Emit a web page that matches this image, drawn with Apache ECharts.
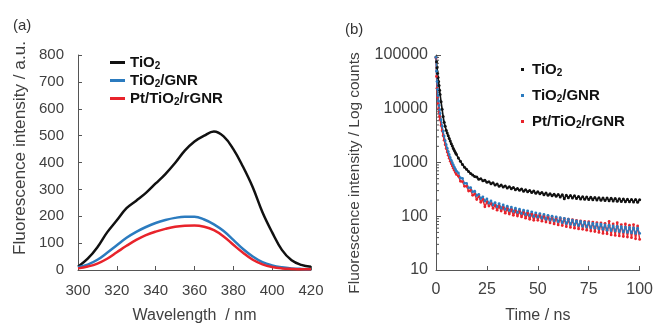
<!DOCTYPE html>
<html><head><meta charset="utf-8">
<script src="https://cdn.jsdelivr.net/npm/echarts@6/dist/echarts.min.js"></script>
<style>html,body{margin:0;padding:0;background:#fff}#c{width:656px;height:329px}</style>
</head><body><div id="c"></div>
<script>
// ---------- Panel (a): steady-state PL spectra ----------
const wavelengths = [300,305,310,315,320,325,330,335,340,345,350,355,360,365,370,375,380,385,390,395,400,405,410,415,420];
const tio2PL = [12,42,85,140,185,230,258,287,322,357,398,444,478,500,515,497,450,384,308,215,140,75,36,19,12];
const gnrPL  = [10,20,38,64,92,120,142,160,175,186,194,198,198,188,170,145,112,78,50,29,17,10,6,4,3];
const ptPL   = [6,13,24,42,66,90,112,130,143,153,161,165,166,161,148,125,94,64,38,21,11,6,4,3,3];

// ---------- Panel (b): time-resolved PL decay ----------
const times = [0,0.25,0.5,0.75,1,1.25,1.5,1.75,2,2.5,3,3.5,4,4.5,5,5.5,6,6.5,7,7.5,8,8.5,9,9.5,10,
  11,12,13,14,15,16,17,18,19,20,21,22,23,24,25,26,27,28,29,30,31,32,33,34,35,36,37,38,39,40,
  41,42,43,44,45,46,47,48,49,50,51,52,53,54,55,56,57,58,59,60,61,62,63,64,65,66,67,68,69,70,
  71,72,73,74,75,76,77,78,79,80,81,82,83,84,85,86,87,88,89,90,91,92,93,94,95,96,97,98,99,100];
const tio2Decay = [92000,75000,58000,46000,38000,32000,27000,22000,18500,13500,9800,7200,5600,4700,4000,3550,3150,2800,2500,2230,2020,1830,1670,1540,1420,
  1210,1050,920,815,745,680,625,585,550,
  540,490,500,458,468,428,440,402,418,380,
  398,362,380,350,366,336,352,326,343,312,
  330,305,322,293,311,286,302,276,295,268,
  286,262,278,252,270,246,262,240,258,235,
  254,228,252,212,246,222,242,218,240,214,
  234,210,230,207,228,205,226,203,224,201,
  222,199,219,197,218,195,216,193,214,191,
  212,189,210,187,208,186,206,184,205,183,
  203];
const gnrDecay = [90000,50000,32000,23000,17500,14000,11500,9600,8200,6200,4800,3800,3100,2550,2150,1850,1600,1400,1230,1100,990,900,820,750,690,
  640,515,505,410,410,338,342,285,292,
  242,256,214,230,192,210,175,193,162,180,
  150,172,141,162,134,154,128,148,122,141,
  117,135,112,130,107,126,103,121,99,116,
  96,112,92,108,88,104,85,100,82,97,
  79,94,76,91,73,88,71,85,69,82,
  67,80,65,78,63,76,61,74,60,72,
  58,71,57,69,55,68,54,66,53,65,
  52,64,51,63,50,62,49,61,48,60,
  48];
const ptDecay = [88000,40000,24000,16500,12500,10000,8400,7200,6300,4900,3900,3150,2600,2150,1820,1560,1360,1200,1060,950,860,780,715,655,600,
  555,448,440,360,362,295,302,245,260,
  205,238,182,205,150,185,155,172,140,160,
  130,152,125,146,114,138,110,132,104,127,
  101,123,97,118,92,114,88,110,84,107,
  84,106,81,102,78,99,75,97,72,94,
  69,92,67,90,64,88,62,86,60,84,
  58,82,57,80,55,79,53,78,52,76,
  50,75,48,74,47,80,45,72,44,76,
  43,70,42,72,41,68,40,70,38,66,
  37];

const seriesNames = ['TiO2', 'TiO2/GNR', 'Pt/TiO2/rGNR'];
const colors = ['#111111', '#2b7bbf', '#e8232b'];

const FONT = '"Liberation Sans", Arial, sans-serif';
const axisColor = '#555';
const textColor = '#404040';

function pairs(xs, ys) { return xs.map((x, i) => [x, ys[i]]); }
function legendFmt(name) { return '{b|' + name.replace(/2/g, '}{s|2}{b|') + '}'; }
const richLegend = {
  b: { fontSize: 15, fontWeight: 'bold', color: '#111', fontFamily: FONT, lineHeight: 18 },
  s: { fontSize: 10, fontWeight: 'bold', color: '#111', fontFamily: FONT, lineHeight: 10, verticalAlign: 'bottom' }
};

const minorTickVals = [];
[10, 100, 1000, 10000].forEach(d => { for (let k = 2; k <= 9; k++) minorTickVals.push(d * k); });

function baseAxis(extra) {
  return Object.assign({
    axisLine: { lineStyle: { color: axisColor, width: 1 } },
    axisTick: { inside: true, length: 4, lineStyle: { color: axisColor } },
    axisLabel: { color: textColor, fontSize: 15, fontFamily: FONT },
    splitLine: { show: false },
    nameLocation: 'middle',
    nameTextStyle: { color: textColor, fontFamily: FONT, fontSize: 16 }
  }, extra);
}

function decaySeries(idx, values, lw, ss) {
  return { name: seriesNames[idx], type: 'line', xAxisIndex: 1, yAxisIndex: 1,
    symbol: 'circle', symbolSize: ss, showSymbol: true, showAllSymbol: true,
    data: pairs(times, values),
    lineStyle: { color: colors[idx], width: lw }, itemStyle: { color: colors[idx] } };
}

function vTitle(text, x, y, size) {
  return { type: 'text', x: x, y: y, rotation: Math.PI / 2, silent: true,
    style: { text: text, fill: textColor, font: size + 'px ' + FONT, align: 'center', verticalAlign: 'middle' } };
}

const chart = echarts.init(document.getElementById('c'), null, { renderer: 'canvas' });
chart.setOption({
  animation: false,
  backgroundColor: '#fff',
  title: [
    { text: '(a)', left: 13, top: 18, padding: 0, textStyle: { fontSize: 15, fontWeight: 'normal', color: '#333', fontFamily: FONT } },
    { text: '(b)', left: 345, top: 22, padding: 0, textStyle: { fontSize: 15, fontWeight: 'normal', color: '#333', fontFamily: FONT } }
  ],
  graphic: [
    vTitle('Fluorescence intensity / a.u.', 20, 148, 17.2),
    vTitle('Fluorescence intensity / Log counts', 355, 173, 15.4)
  ],
  grid: [
    { left: 78, top: 55, width: 233, height: 222 },
    { left: 436, top: 55, width: 205, height: 223 }
  ],
  legend: [
    { data: seriesNames, orient: 'vertical', left: 110, top: 55, padding: 0, itemGap: 1.5,
      icon: 'rect', itemWidth: 15, itemHeight: 3, formatter: legendFmt,
      textStyle: { rich: richLegend }, selectedMode: false },
    { data: seriesNames, orient: 'vertical', left: 521, top: 62, padding: 0, itemGap: 9.5,
      icon: 'rect', itemWidth: 3, itemHeight: 3, formatter: legendFmt,
      textStyle: { rich: richLegend, padding: [0, 0, 0, 3] }, selectedMode: false }
  ],
  xAxis: [
    baseAxis({ gridIndex: 0, type: 'value', min: 300, max: 420, interval: 20,
      name: 'Wavelength  / nm', nameGap: 38,
      axisLabel: { color: textColor, fontSize: 15, fontFamily: FONT, margin: 13 } }),
    baseAxis({ gridIndex: 1, type: 'value', min: 0, max: 100, interval: 25,
      name: 'Time / ns', nameGap: 38,
      axisLabel: { color: textColor, fontSize: 16, fontFamily: FONT, margin: 12 } })
  ],
  yAxis: [
    baseAxis({ gridIndex: 0, type: 'value', min: 0, max: 800, interval: 100,
      axisLabel: { color: textColor, fontSize: 15, fontFamily: FONT, margin: 14 } }),
    baseAxis({ gridIndex: 1, type: 'log', logBase: 10, min: 10, max: 100000,
      axisTick: { inside: true, length: 5, lineStyle: { color: axisColor } },
      axisLabel: { color: textColor, fontSize: 16, fontFamily: FONT, margin: 8,
        formatter: v => String(Math.round(v)) } })
  ],
  series: [
    { name: seriesNames[0], type: 'line', xAxisIndex: 0, yAxisIndex: 0, smooth: 0.4, symbol: 'none',
      data: pairs(wavelengths, tio2PL), lineStyle: { color: colors[0], width: 2.5 }, itemStyle: { color: colors[0] } },
    { name: seriesNames[1], type: 'line', xAxisIndex: 0, yAxisIndex: 0, smooth: 0.4, symbol: 'none',
      data: pairs(wavelengths, gnrPL), lineStyle: { color: colors[1], width: 2.5 }, itemStyle: { color: colors[1] } },
    { name: seriesNames[2], type: 'line', xAxisIndex: 0, yAxisIndex: 0, smooth: 0.4, symbol: 'none',
      data: pairs(wavelengths, ptPL), lineStyle: { color: colors[2], width: 2.5 }, itemStyle: { color: colors[2] } },
    decaySeries(0, tio2Decay, 1.6, 3),
    decaySeries(2, ptDecay, 1.4, 2.8),
    decaySeries(1, gnrDecay, 1.4, 2.8),
    { type: 'custom', xAxisIndex: 1, yAxisIndex: 1, silent: true, clip: false,
      data: minorTickVals.map(v => [0, v]),
      renderItem: function (params, api) {
        const p = api.coord([0, api.value(1)]);
        return { type: 'line', shape: { x1: p[0], y1: p[1], x2: p[0] + 3, y2: p[1] },
          style: { stroke: axisColor, lineWidth: 1 } };
      } }
  ]
});
</script></body></html>
